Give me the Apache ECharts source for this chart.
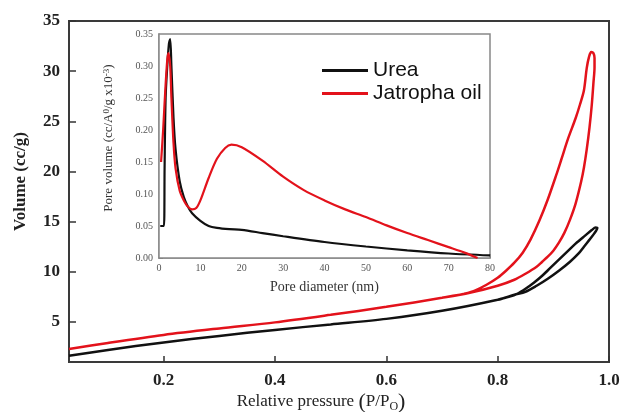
<!DOCTYPE html>
<html>
<head>
<meta charset="utf-8">
<script src="https://cdn.jsdelivr.net/npm/echarts@6.0.0/dist/echarts.min.js"></script>
<style>html,body{margin:0;padding:0;background:#fff}</style>
</head>
<body>
<div id="main" style="width:624px;height:412px"></div>
<script>
// isotherms (adsorption branch, then desorption back)
var ureaP = [0.03,0.1,0.2,0.3,0.4,0.5,0.6,0.7,0.8,0.83,0.85,0.87,0.89,0.91,0.93,0.945,0.955,0.965,0.972,0.977,0.979,0.976,0.969,0.957,0.94,0.925,0.91,0.895,0.88,0.865,0.85,0.835,0.82,0.8];
var ureaV = [1.62,2.2,2.95,3.6,4.2,4.75,5.3,6.1,7.2,7.7,8.0,8.6,9.3,10.1,11.0,11.8,12.5,13.2,13.7,14.1,14.35,14.4,14.15,13.6,12.8,12.0,11.2,10.4,9.6,8.9,8.3,7.8,7.5,7.2];
var jatP = [0.03,0.1,0.2,0.3,0.4,0.5,0.6,0.7,0.75,0.8,0.83,0.85,0.87,0.88,0.89,0.9,0.91,0.92,0.93,0.94,0.95,0.955,0.96,0.965,0.969,0.972,0.974,0.974,0.972,0.968,0.964,0.96,0.955,0.948,0.94,0.926,0.915,0.905,0.89,0.875,0.859,0.845,0.83,0.815,0.8,0.78,0.76,0.74];
var jatV = [2.29,2.9,3.7,4.35,4.95,5.7,6.5,7.4,7.9,8.6,9.2,9.8,10.5,11.0,11.5,12.1,12.9,13.9,15.2,16.8,19.0,20.4,22.2,24.4,26.6,28.8,30.4,31.3,31.8,31.9,31.4,30.3,28.1,26.7,25.3,23.2,21.3,19.6,17.2,15.1,13.2,11.9,10.9,10.1,9.4,8.7,8.15,7.8];

// pore size distribution (inset)
var ureaD = [0.3,1.2,1.35,1.6,2.0,2.4,2.7,3.0,3.5,4,5,6,7,8,10,12,14,17,20,25,30,40,50,60,70,80];
var ureaPV = [0.05,0.05,0.14,0.25,0.30,0.335,0.342,0.30,0.22,0.17,0.12,0.095,0.08,0.07,0.058,0.05,0.047,0.045,0.044,0.039,0.034,0.025,0.018,0.012,0.007,0.004];
var jatD = [0.5,1.0,1.5,2.0,2.3,2.7,3.0,3.5,4,5,6,7,8,9,10,12,14,16,17.5,20,25,30,35,40,45,50,55,60,65,70,74,77];
var jatPV = [0.15,0.2,0.26,0.31,0.32,0.30,0.25,0.18,0.14,0.105,0.09,0.08,0.076,0.078,0.09,0.125,0.155,0.172,0.177,0.173,0.152,0.127,0.106,0.09,0.076,0.064,0.051,0.039,0.028,0.017,0.008,0.0];

var xTicks = [0.2,0.4,0.6,0.8,1.0];
var yTicks = [5,10,15,20,25,30,35];

function pairs(xs, ys) {
  return xs.map(function (x, i) { return [x, ys[i]]; });
}

var RED = '#e3121b', BLACK = '#111';
var serif = 'Liberation Serif';

var myChart = echarts.init(document.getElementById('main'));
myChart.setOption({
  animation: false,
  legend: {
    data: ['Urea', 'Jatropha oil'],
    orient: 'vertical',
    left: 322, top: 60, z: 20, padding: 0,
    icon: 'rect', itemWidth: 46, itemHeight: 3, itemGap: 2,
    textStyle: { fontFamily: 'Liberation Sans', fontSize: 21, color: '#111' }
  },
  grid: [
    { left: 69, top: 21, right: 15, bottom: 50, outerBoundsMode: 'none', show: true, borderColor: '#3a3a3a', borderWidth: 2, backgroundColor: '#fff' },
    { left: 159, top: 34, width: 331, height: 224, outerBoundsMode: 'none', show: true, borderColor: '#888', borderWidth: 1.5, backgroundColor: '#fff', z: 5 }
  ],
  xAxis: [{
    gridIndex: 0, type: 'value', min: 0.03, max: 1.0,
    splitLine: { show: false },
    axisLine: { lineStyle: { color: '#3a3a3a', width: 2 } },
    axisTick: { inside: true, length: 6, customValues: xTicks, lineStyle: { color: '#333', width: 1.5 } },
    axisLabel: { customValues: xTicks, margin: 10, fontFamily: serif, fontWeight: 'bold', fontSize: 17, color: '#222',
      formatter: function (v) { return v.toFixed(1); } },
    name: '{a|Relative pressure }{p|(}{a|P/P}{s|O}{p|)}',
    nameLocation: 'middle', nameGap: 29, nameMoveOverlap: false,
    nameTextStyle: { padding: [0, 36, 0, 0],
      rich: {
        a: { fontFamily: serif, fontSize: 17, color: '#222' },
        p: { fontFamily: serif, fontSize: 22, color: '#222' },
        s: { fontFamily: serif, fontSize: 12, color: '#222', verticalAlign: 'bottom' }
      } }
  }, {
    gridIndex: 1, type: 'value', min: 0, max: 80, interval: 10,
    splitLine: { show: false },
    axisLine: { lineStyle: { color: '#888', width: 1.5 } },
    axisTick: { inside: true, length: 4, lineStyle: { color: '#777' } },
    axisLabel: { margin: 5, fontFamily: serif, fontSize: 10, color: '#555' },
    name: 'Pore diameter (nm)', nameLocation: 'middle', nameGap: 22,
    nameTextStyle: { fontFamily: serif, fontSize: 14, color: '#333' }
  }],
  yAxis: [{
    gridIndex: 0, type: 'value', min: 1, max: 35,
    splitLine: { show: false },
    axisLine: { lineStyle: { color: '#3a3a3a', width: 2 } },
    axisTick: { inside: true, length: 7, customValues: yTicks, lineStyle: { color: '#333', width: 1.5 } },
    axisLabel: { customValues: yTicks, margin: 9, fontFamily: serif, fontWeight: 'bold', fontSize: 17, color: '#222' },
    name: 'Volume (cc/g)', nameLocation: 'middle', nameGap: 40,
    nameTextStyle: { fontFamily: serif, fontWeight: 'bold', fontSize: 17, color: '#222', padding: [0, 0, 0, 20] }
  }, {
    gridIndex: 1, type: 'value', min: 0, max: 0.35, interval: 0.05,
    splitLine: { show: false },
    axisLine: { lineStyle: { color: '#888', width: 1.5 } },
    axisTick: { inside: true, length: 4, lineStyle: { color: '#777' } },
    axisLabel: { margin: 6, fontFamily: serif, fontSize: 10, color: '#555',
      formatter: function (v) { return v.toFixed(2); } },
    name: '{a|Pore volume (cc/A}{u|0}{a|/g x10}{u|-3}{a|)}',
    nameLocation: 'middle', nameGap: 44,
    nameTextStyle: { padding: [0, 0, 0, 16],
      rich: {
        a: { fontFamily: serif, fontSize: 13, color: '#333' },
        u: { fontFamily: serif, fontSize: 9, color: '#333', verticalAlign: 'top' }
      } }
  }],
  series: [
    { name: 'Urea', type: 'line', xAxisIndex: 0, yAxisIndex: 0, data: pairs(ureaP, ureaV),
      symbol: 'none', smooth: 0.3, lineStyle: { color: BLACK, width: 2.5 }, itemStyle: { color: BLACK } },
    { name: 'Jatropha oil', type: 'line', xAxisIndex: 0, yAxisIndex: 0, data: pairs(jatP, jatV),
      symbol: 'none', smooth: 0.3, lineStyle: { color: RED, width: 2.5 }, itemStyle: { color: RED } },
    { name: 'Urea', type: 'line', xAxisIndex: 1, yAxisIndex: 1, data: pairs(ureaD, ureaPV), z: 6,
      symbol: 'none', smooth: 0.3, lineStyle: { color: BLACK, width: 2.2 }, itemStyle: { color: BLACK } },
    { name: 'Jatropha oil', type: 'line', xAxisIndex: 1, yAxisIndex: 1, data: pairs(jatD, jatPV), z: 6,
      symbol: 'none', smooth: 0.3, lineStyle: { color: RED, width: 2.2 }, itemStyle: { color: RED } }
  ]
});
</script>
</body>
</html>
